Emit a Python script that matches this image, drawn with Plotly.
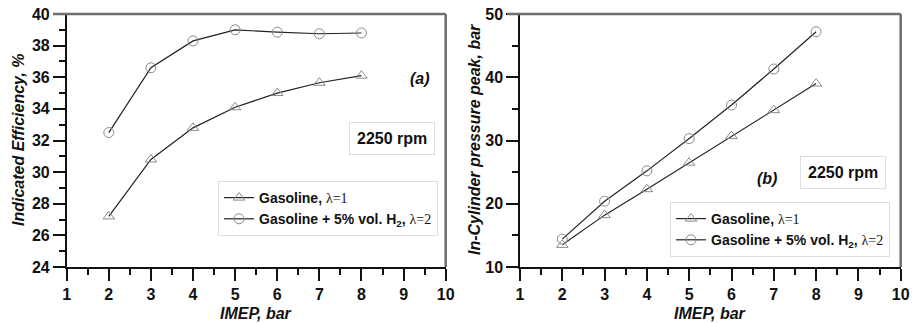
import plotly.graph_objects as go

imep = [2, 3, 4, 5, 6, 7, 8]
eff_gasoline = [27.2, 30.8, 32.8, 34.1, 35.0, 35.65, 36.1]
eff_h2 = [32.5, 36.6, 38.3, 39.0, 38.85, 38.75, 38.8]
pmax_gasoline = [13.5, 18.2, 22.3, 26.5, 30.7, 34.8, 39.0]
pmax_h2 = [14.4, 20.4, 25.2, 30.3, 35.6, 41.3, 47.2]

W, H = 912, 323
def px(x): return x / W
def py(y): return 1 - y / H

FONT = "Liberation Sans, Arial, sans-serif"
SERIF = "Liberation Serif, Times New Roman, serif"
name_g = f"Gasoline, <span style='font-family:{SERIF};font-weight:normal'>λ=1</span>"
name_h = f"Gasoline + 5% vol. H<sub>2</sub>, <span style='font-family:{SERIF};font-weight:normal'>λ=2</span>"

line = dict(color="#222222", width=1.2)
mk_tri = dict(symbol="triangle-up-open", size=10, color="#8a8a8a", line=dict(width=1))
mk_cir = dict(symbol="circle-open", size=10, color="#8a8a8a", line=dict(width=1))

fig = go.Figure()
fig.add_trace(go.Scatter(x=imep, y=eff_gasoline, mode="lines+markers", name=name_g, line=line, marker=mk_tri, xaxis="x", yaxis="y", legend="legend"))
fig.add_trace(go.Scatter(x=imep, y=eff_h2, mode="lines+markers", name=name_h, line=line, marker=mk_cir, xaxis="x", yaxis="y", legend="legend"))
fig.add_trace(go.Scatter(x=imep, y=pmax_gasoline, mode="lines+markers", name=name_g, line=line, marker=mk_tri, xaxis="x2", yaxis="y2", legend="legend2"))
fig.add_trace(go.Scatter(x=imep, y=pmax_h2, mode="lines+markers", name=name_h, line=line, marker=mk_cir, xaxis="x2", yaxis="y2", legend="legend2"))

tickfont = dict(family=FONT, size=16, color="#111", weight="bold")
ax_common = dict(showline=True, linecolor="#111", linewidth=1.5, showgrid=False, zeroline=False,
                 ticks="outside", ticklen=12, tickwidth=1.5, tickcolor="#111", tickfont=tickfont,
                 automargin=False)
xa = dict(ax_common, range=[1, 10], dtick=1, tick0=1,
          minor=dict(ticks="outside", ticklen=6, dtick=0.5, tickwidth=1.5, tickcolor="#111"))

fig.update_layout(
    width=W, height=H, margin=dict(l=0, r=0, t=0, b=0, autoexpand=False),
    paper_bgcolor="white", plot_bgcolor="white",
    xaxis=dict(xa, domain=[px(66.7), px(445.7)], anchor="y"),
    yaxis=dict(ax_common, range=[24, 40], dtick=2, domain=[py(267), py(14)], anchor="x",
               minor=dict(ticks="outside", ticklen=6, dtick=1, tickwidth=1.5, tickcolor="#111")),
    xaxis2=dict(xa, domain=[px(520), px(900.7)], anchor="y2"),
    yaxis2=dict(ax_common, range=[10, 50], dtick=10, domain=[py(267), py(14)], anchor="x2",
                minor=dict(ticks="outside", ticklen=6, dtick=5, tickwidth=1.5, tickcolor="#111")),
    showlegend=True,
    legend=dict(x=px(218), y=py(181), xanchor="left", yanchor="top", bgcolor="white",
                bordercolor="#dddddd", borderwidth=1, font=dict(family=FONT, size=14, color="#111", weight="bold"),
                itemwidth=30, tracegroupgap=0),
    legend2=dict(x=px(670), y=py(202), xanchor="left", yanchor="top", bgcolor="white",
                 bordercolor="#dddddd", borderwidth=1, font=dict(family=FONT, size=14, color="#111", weight="bold"),
                 itemwidth=30, tracegroupgap=0),
)

shapes = []
for (xl, xr) in [(53, 445.7), (507, 900.7)]:
    shapes.append(dict(type="line", xref="paper", yref="paper", x0=px(xl), x1=px(xr), y0=py(14), y1=py(14),
                       line=dict(color="#6e6e6e", width=2.5)))
    shapes.append(dict(type="line", xref="paper", yref="paper", x0=px(xr), x1=px(xr), y0=py(14), y1=py(267),
                       line=dict(color="#6e6e6e", width=2.5)))
fig.update_layout(shapes=shapes)

titlefont = dict(family=FONT, size=16, color="#111", weight="bold", style="italic")
def A(text, x, y, font, **kw):
    return dict(text=text, x=px(x), y=py(y), xref="paper", yref="paper", showarrow=False,
                xanchor="center", yanchor="middle", font=font, **kw)

lblfont = dict(family=FONT, size=16, color="#111", weight="bold", style="italic")
boxfont = dict(family=FONT, size=16, color="#111", weight="bold")
ann = [
    A("IMEP, bar", 256, 313, titlefont),
    A("IMEP, bar", 710, 313, titlefont),
    A("Indicated Efficiency, %", 18, 140, titlefont, textangle=-90),
    A("In-Cylinder pressure peak, bar", 474, 140, titlefont, textangle=-90),
    A("(a)", 420, 78, lblfont),
    A("(b)", 767, 178, lblfont),
    A("2250 rpm", 392, 138, boxfont, bordercolor="#dddddd", borderwidth=1, borderpad=7, bgcolor="white"),
    A("2250 rpm", 843, 172, boxfont, bordercolor="#dddddd", borderwidth=1, borderpad=7, bgcolor="white"),
]
fig.update_layout(annotations=ann)

fig.write_html("out.html")
